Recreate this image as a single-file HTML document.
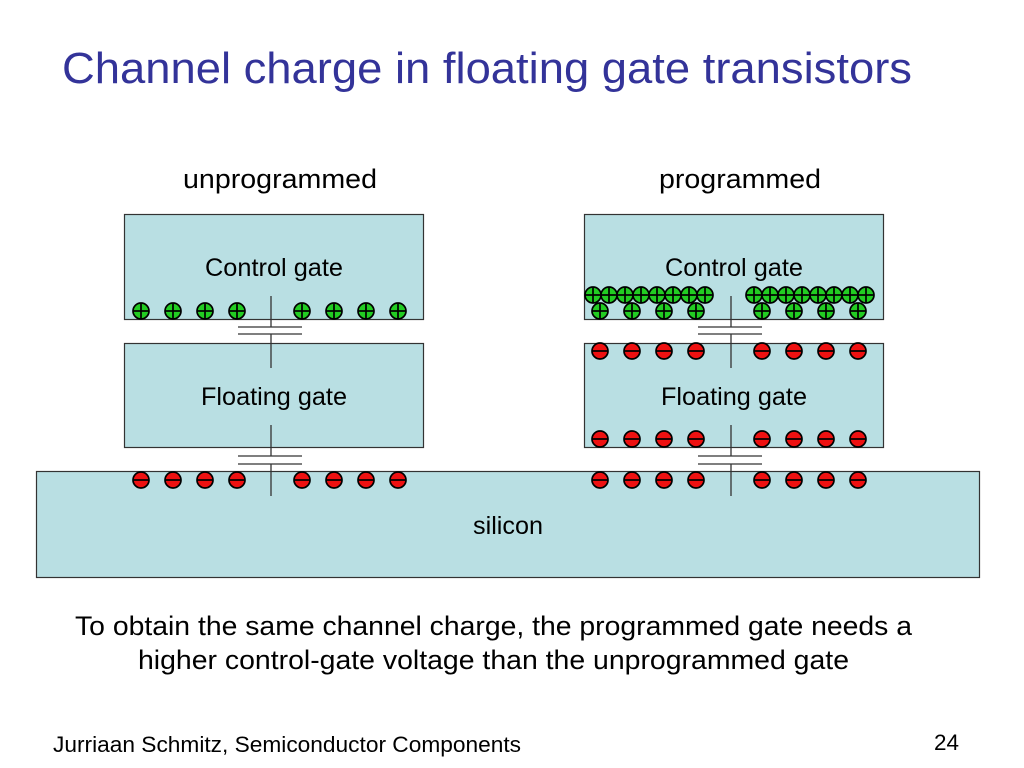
<!DOCTYPE html>
<html><head><meta charset="utf-8"><style>
html,body{margin:0;padding:0;background:#fff;}
svg{display:block;font-family:"Liberation Sans",Arial,sans-serif;}
</style></head><body>
<svg width="1024" height="768" viewBox="0 0 1024 768" xmlns="http://www.w3.org/2000/svg">
<defs>
<g id="p"><circle r="8" fill="#22cc22" stroke="#000" stroke-width="1.7"/><line x1="-7.5" y1="0" x2="7.5" y2="0" stroke="#000" stroke-width="1.7"/><line x1="0" y1="-7.5" x2="0" y2="7.5" stroke="#000" stroke-width="1.7"/></g>
<g id="m"><circle r="8" fill="#ee1111" stroke="#000" stroke-width="1.7"/><line x1="-7.5" y1="0" x2="7.5" y2="0" stroke="#000" stroke-width="1.7"/></g>
</defs>
<text x="62" y="83" font-size="44" fill="#333399" textLength="850" lengthAdjust="spacingAndGlyphs">Channel charge in floating gate transistors</text>
<text x="183" y="188" font-size="27" fill="#000" textLength="194" lengthAdjust="spacingAndGlyphs">unprogrammed</text>
<text x="659" y="188" font-size="27" fill="#000" textLength="162" lengthAdjust="spacingAndGlyphs">programmed</text>

<g fill="#b9dfe3" stroke="#333" stroke-width="1.2">
<rect x="124.5" y="214.5" width="299" height="105"/>
<rect x="124.5" y="343.5" width="299" height="104"/>
<rect x="584.5" y="214.5" width="299" height="105"/>
<rect x="584.5" y="343.5" width="299" height="104"/>
<rect x="36.5" y="471.5" width="943" height="106"/>
</g>
<g font-size="25" fill="#000">
<text x="205" y="276" textLength="138" lengthAdjust="spacingAndGlyphs">Control gate</text>
<text x="201" y="405" textLength="146" lengthAdjust="spacingAndGlyphs">Floating gate</text>
<text x="665" y="276" textLength="138" lengthAdjust="spacingAndGlyphs">Control gate</text>
<text x="661" y="405" textLength="146" lengthAdjust="spacingAndGlyphs">Floating gate</text>
<text x="473" y="534" textLength="70" lengthAdjust="spacingAndGlyphs">silicon</text>
</g>

<g stroke="#333" stroke-width="1.3" fill="none">
<path d="M271 296V327M271 334V368M271 425V456M271 464V496M238 327H302M238 334H302M238 456H302M238 464H302"/>
<path d="M731 296V327M731 334V368M731 425V456M731 464V496M698 327H762M698 334H762M698 456H762M698 464H762"/>
</g>

<g>
<use href="#p" x="141" y="311"/><use href="#p" x="173" y="311"/><use href="#p" x="205" y="311"/><use href="#p" x="237" y="311"/>
<use href="#p" x="302" y="311"/><use href="#p" x="334" y="311"/><use href="#p" x="366" y="311"/><use href="#p" x="398" y="311"/>
<use href="#m" x="141" y="480"/><use href="#m" x="173" y="480"/><use href="#m" x="205" y="480"/><use href="#m" x="237" y="480"/>
<use href="#m" x="302" y="480"/><use href="#m" x="334" y="480"/><use href="#m" x="366" y="480"/><use href="#m" x="398" y="480"/>
</g>
<g>
<use href="#p" x="593" y="295"/><use href="#p" x="609" y="295"/><use href="#p" x="625" y="295"/><use href="#p" x="641" y="295"/><use href="#p" x="657" y="295"/><use href="#p" x="673" y="295"/><use href="#p" x="689" y="295"/><use href="#p" x="705" y="295"/>
<use href="#p" x="754" y="295"/><use href="#p" x="770" y="295"/><use href="#p" x="786" y="295"/><use href="#p" x="802" y="295"/><use href="#p" x="818" y="295"/><use href="#p" x="834" y="295"/><use href="#p" x="850" y="295"/><use href="#p" x="866" y="295"/>
<use href="#p" x="600" y="311"/><use href="#p" x="632" y="311"/><use href="#p" x="664" y="311"/><use href="#p" x="696" y="311"/>
<use href="#p" x="762" y="311"/><use href="#p" x="794" y="311"/><use href="#p" x="826" y="311"/><use href="#p" x="858" y="311"/>
<use href="#m" x="600" y="351"/><use href="#m" x="632" y="351"/><use href="#m" x="664" y="351"/><use href="#m" x="696" y="351"/>
<use href="#m" x="762" y="351"/><use href="#m" x="794" y="351"/><use href="#m" x="826" y="351"/><use href="#m" x="858" y="351"/>
<use href="#m" x="600" y="439"/><use href="#m" x="632" y="439"/><use href="#m" x="664" y="439"/><use href="#m" x="696" y="439"/>
<use href="#m" x="762" y="439"/><use href="#m" x="794" y="439"/><use href="#m" x="826" y="439"/><use href="#m" x="858" y="439"/>
<use href="#m" x="600" y="480"/><use href="#m" x="632" y="480"/><use href="#m" x="664" y="480"/><use href="#m" x="696" y="480"/>
<use href="#m" x="762" y="480"/><use href="#m" x="794" y="480"/><use href="#m" x="826" y="480"/><use href="#m" x="858" y="480"/>
</g>

<g font-size="27" fill="#000">
<text x="75" y="635" textLength="837" lengthAdjust="spacingAndGlyphs">To obtain the same channel charge, the programmed gate needs a</text>
<text x="138" y="669" textLength="711" lengthAdjust="spacingAndGlyphs">higher control-gate voltage than the unprogrammed gate</text>
</g>
<text x="53" y="752" font-size="22" fill="#000" textLength="468" lengthAdjust="spacingAndGlyphs">Jurriaan Schmitz, Semiconductor Components</text>
<text x="934" y="750" font-size="22" fill="#000" textLength="25" lengthAdjust="spacingAndGlyphs">24</text>
</svg>
</body></html>
